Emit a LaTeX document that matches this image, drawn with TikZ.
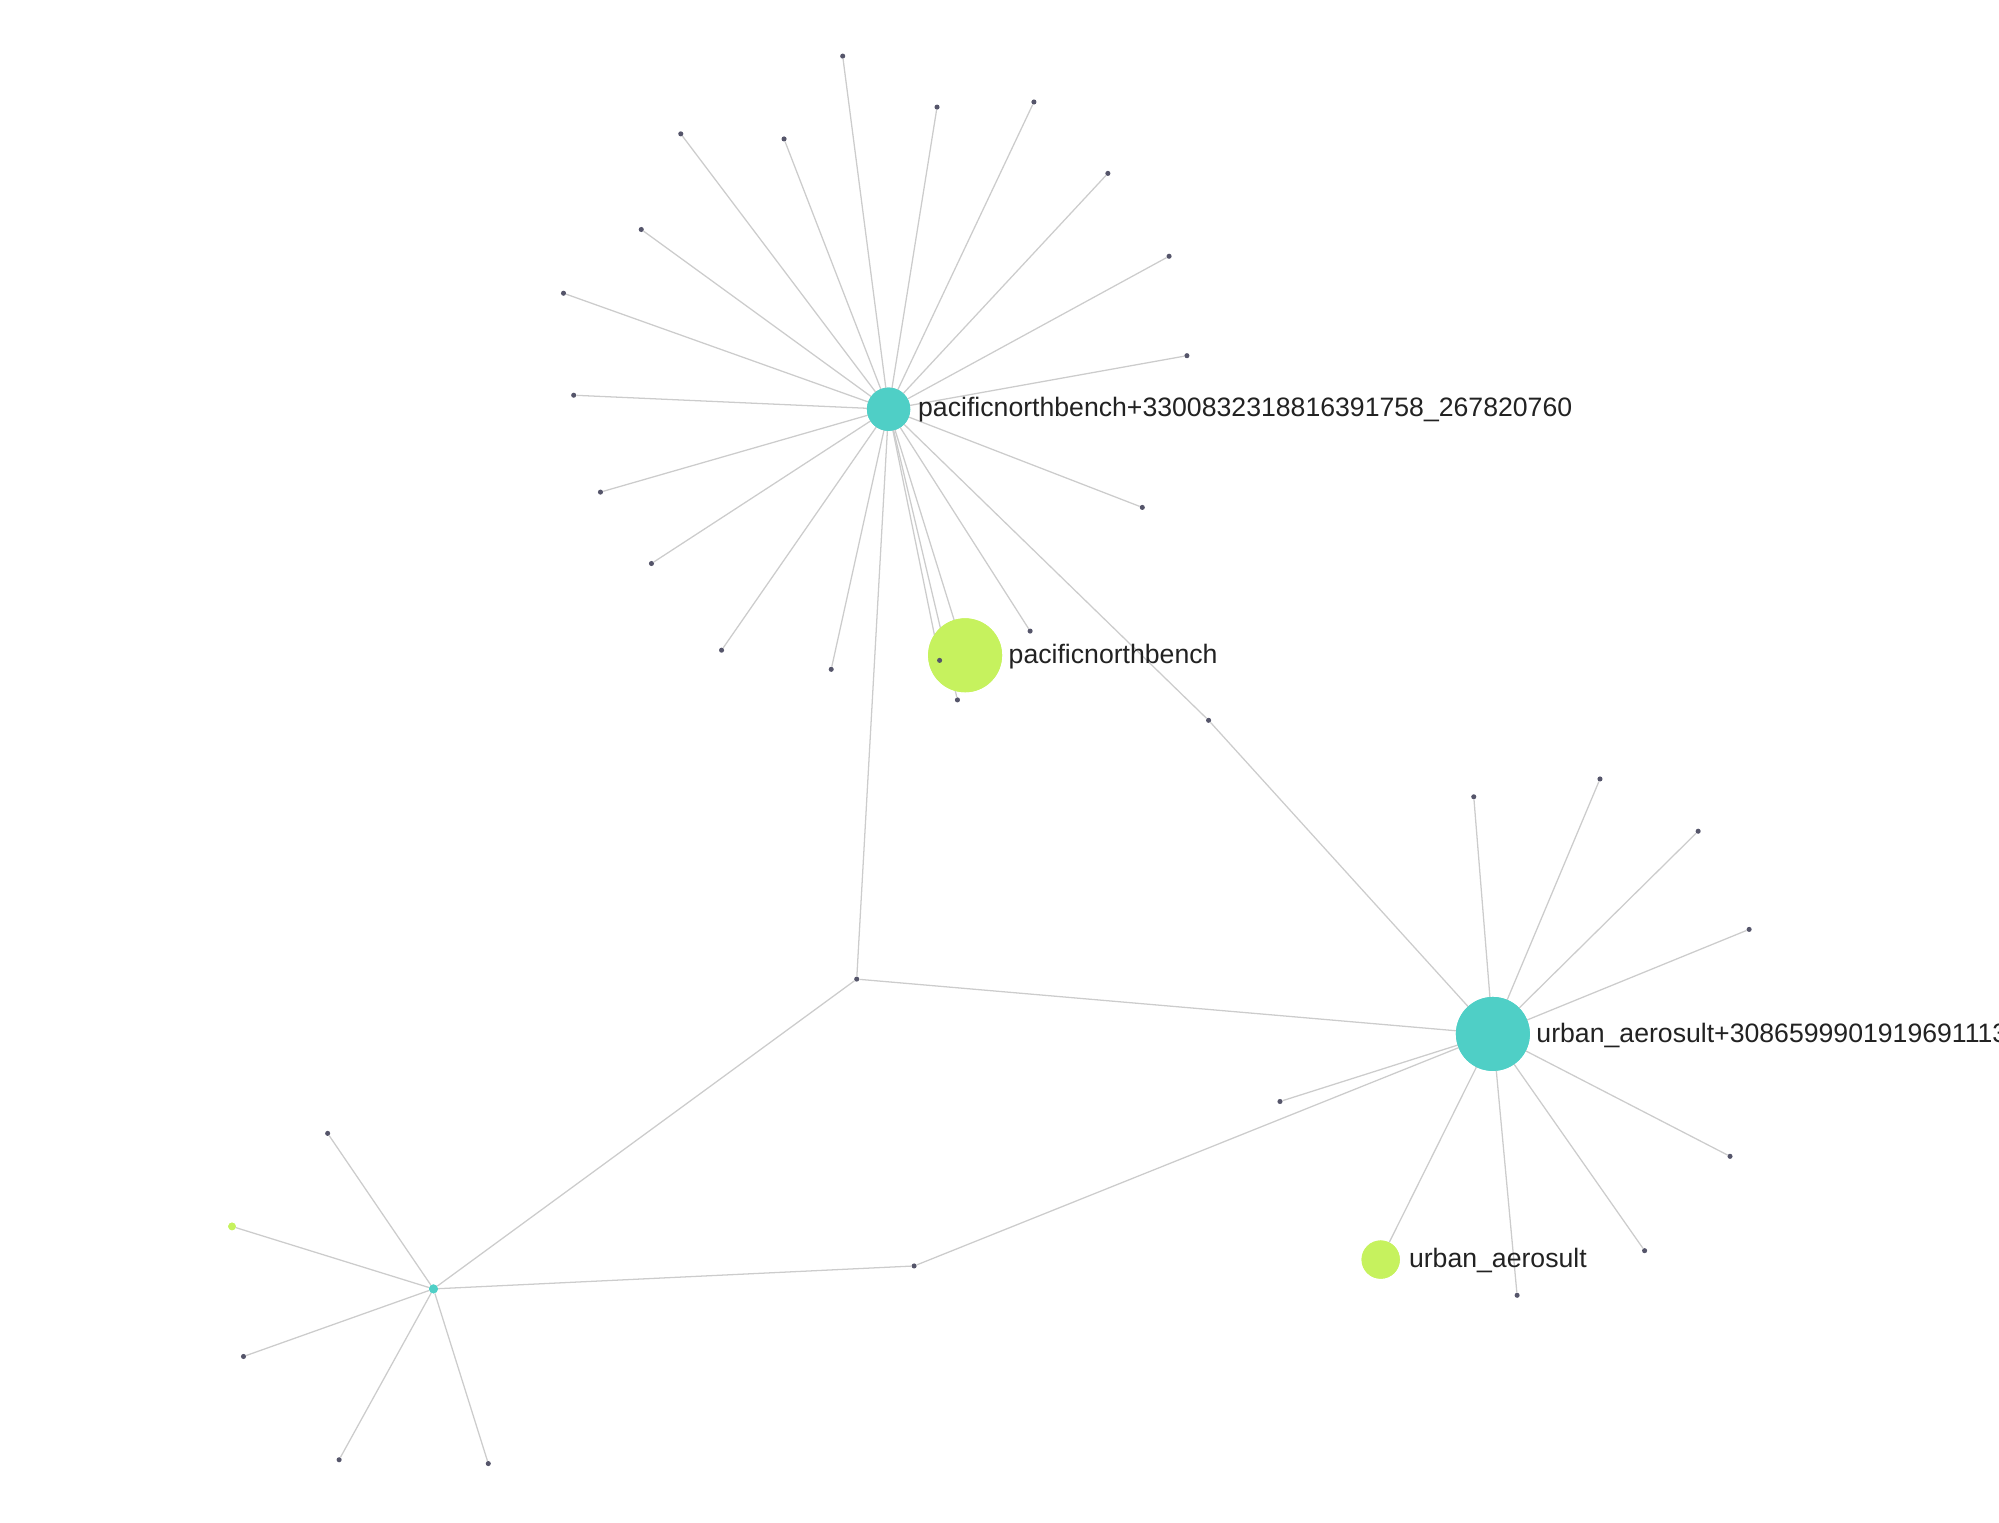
\documentclass[tikz,border=0pt]{standalone}
\usepackage{fontspec}
\setmainfont{Liberation Sans}
\definecolor{teal1}{HTML}{4FCFC6}
\definecolor{lime1}{HTML}{C6F25E}
\definecolor{edge1}{HTML}{CCCCCC}
\definecolor{dot1}{HTML}{55556A}
\definecolor{txt1}{HTML}{222222}
\begin{document}
\begin{tikzpicture}[x=1pt,y=-1pt,
  e/.style={draw=edge1,line width=1pt},
  d/.style={circle,fill=dot1,inner sep=0pt,minimum size=4pt},
  hub/.style={circle,fill=teal1,inner sep=0pt},
  grn/.style={circle,fill=lime1,inner sep=0pt},
  lab/.style={font=\fontsize{20.9}{23}\selectfont,text=txt1,anchor=west,inner sep=0pt}]
\useasboundingbox (0,0) rectangle (1568,1194);
\node[hub,minimum size=34pt] (A) at (697,321) {};
\node[hub,minimum size=58pt] (B) at (1171,811) {};
\node[hub,minimum size=7pt] (C) at (340,1011) {};
\node[grn,minimum size=58pt] (P) at (757,514) {};
\node[grn,minimum size=30pt] (U) at (1083,988) {};
\node[grn,minimum size=6pt] (c1) at (182,962) {};
\node[d] (m1) at (948,565) {};
\node[d] (m2) at (672,768) {};
\node[d] (m3) at (717,993) {};
\foreach \i/\p in {1/{661,44},2/{735,84},3/{811,80},4/{869,136},5/{917,201},6/{931,279},7/{896,398},8/{808,495},9/{751,549},10/{737,518},11/{652,525},12/{566,510},13/{511,442},14/{471,386},15/{450,310},16/{442,230},17/{503,180},18/{534,105},19/{615,109}}{
  \node[d] (a\i) at (\p) {};
}
\foreach \i/\p in {1/{1156,625},2/{1255,611},3/{1332,652},4/{1372,729},5/{1357,907},6/{1290,981},7/{1190,1016},8/{1004,864}}{
  \node[d] (b\i) at (\p) {};
}
\foreach \i/\p in {2/{257,889},3/{191,1064},4/{266,1145},5/{383,1148}}{
  \node[d] (c\i) at (\p) {};
}
\foreach \i in {1,...,19} \draw[e] (A.center) -- (a\i);
\draw[e] (A.center) -- (P.center);
\draw[e] (A.center) -- (m1); \draw[e] (m1) -- (B.center);
\draw[e] (A.center) -- (m2); \draw[e] (m2) -- (B.center);
\draw[e] (m2) -- (C); \draw[e] (C) -- (m3); \draw[e] (m3) -- (B.center);
\foreach \i in {1,...,8} \draw[e] (B.center) -- (b\i);
\draw[e] (B.center) -- (U);
\foreach \i in {2,...,5} \draw[e] (C) -- (c\i);
\draw[e] (C) -- (c1);
% redraw nodes on top
\node[hub,minimum size=34pt] at (697,321) {};
\node[grn,minimum size=58pt] at (757,514) {};
\node[d] at (737,518) {};
\node[hub,minimum size=58pt] at (1171,811) {};
\node[grn,minimum size=30pt] at (1083,988) {};
\node[hub,minimum size=7pt] at (340,1011) {};
\node[grn,minimum size=6pt] at (182,962) {};
\node[lab] (LA) at (720,321) {pacificnorthbench+3300832318816391758\_267820760};
\node[lab] (LP) at (791,515) {pacificnorthbench};
\node[lab] (LB) at (1205,812) {urban\_aerosult+3086599901919691113783};
\node[lab] (LU) at (1105,989) {urban\_aerosult};
\end{tikzpicture}
\end{document}
